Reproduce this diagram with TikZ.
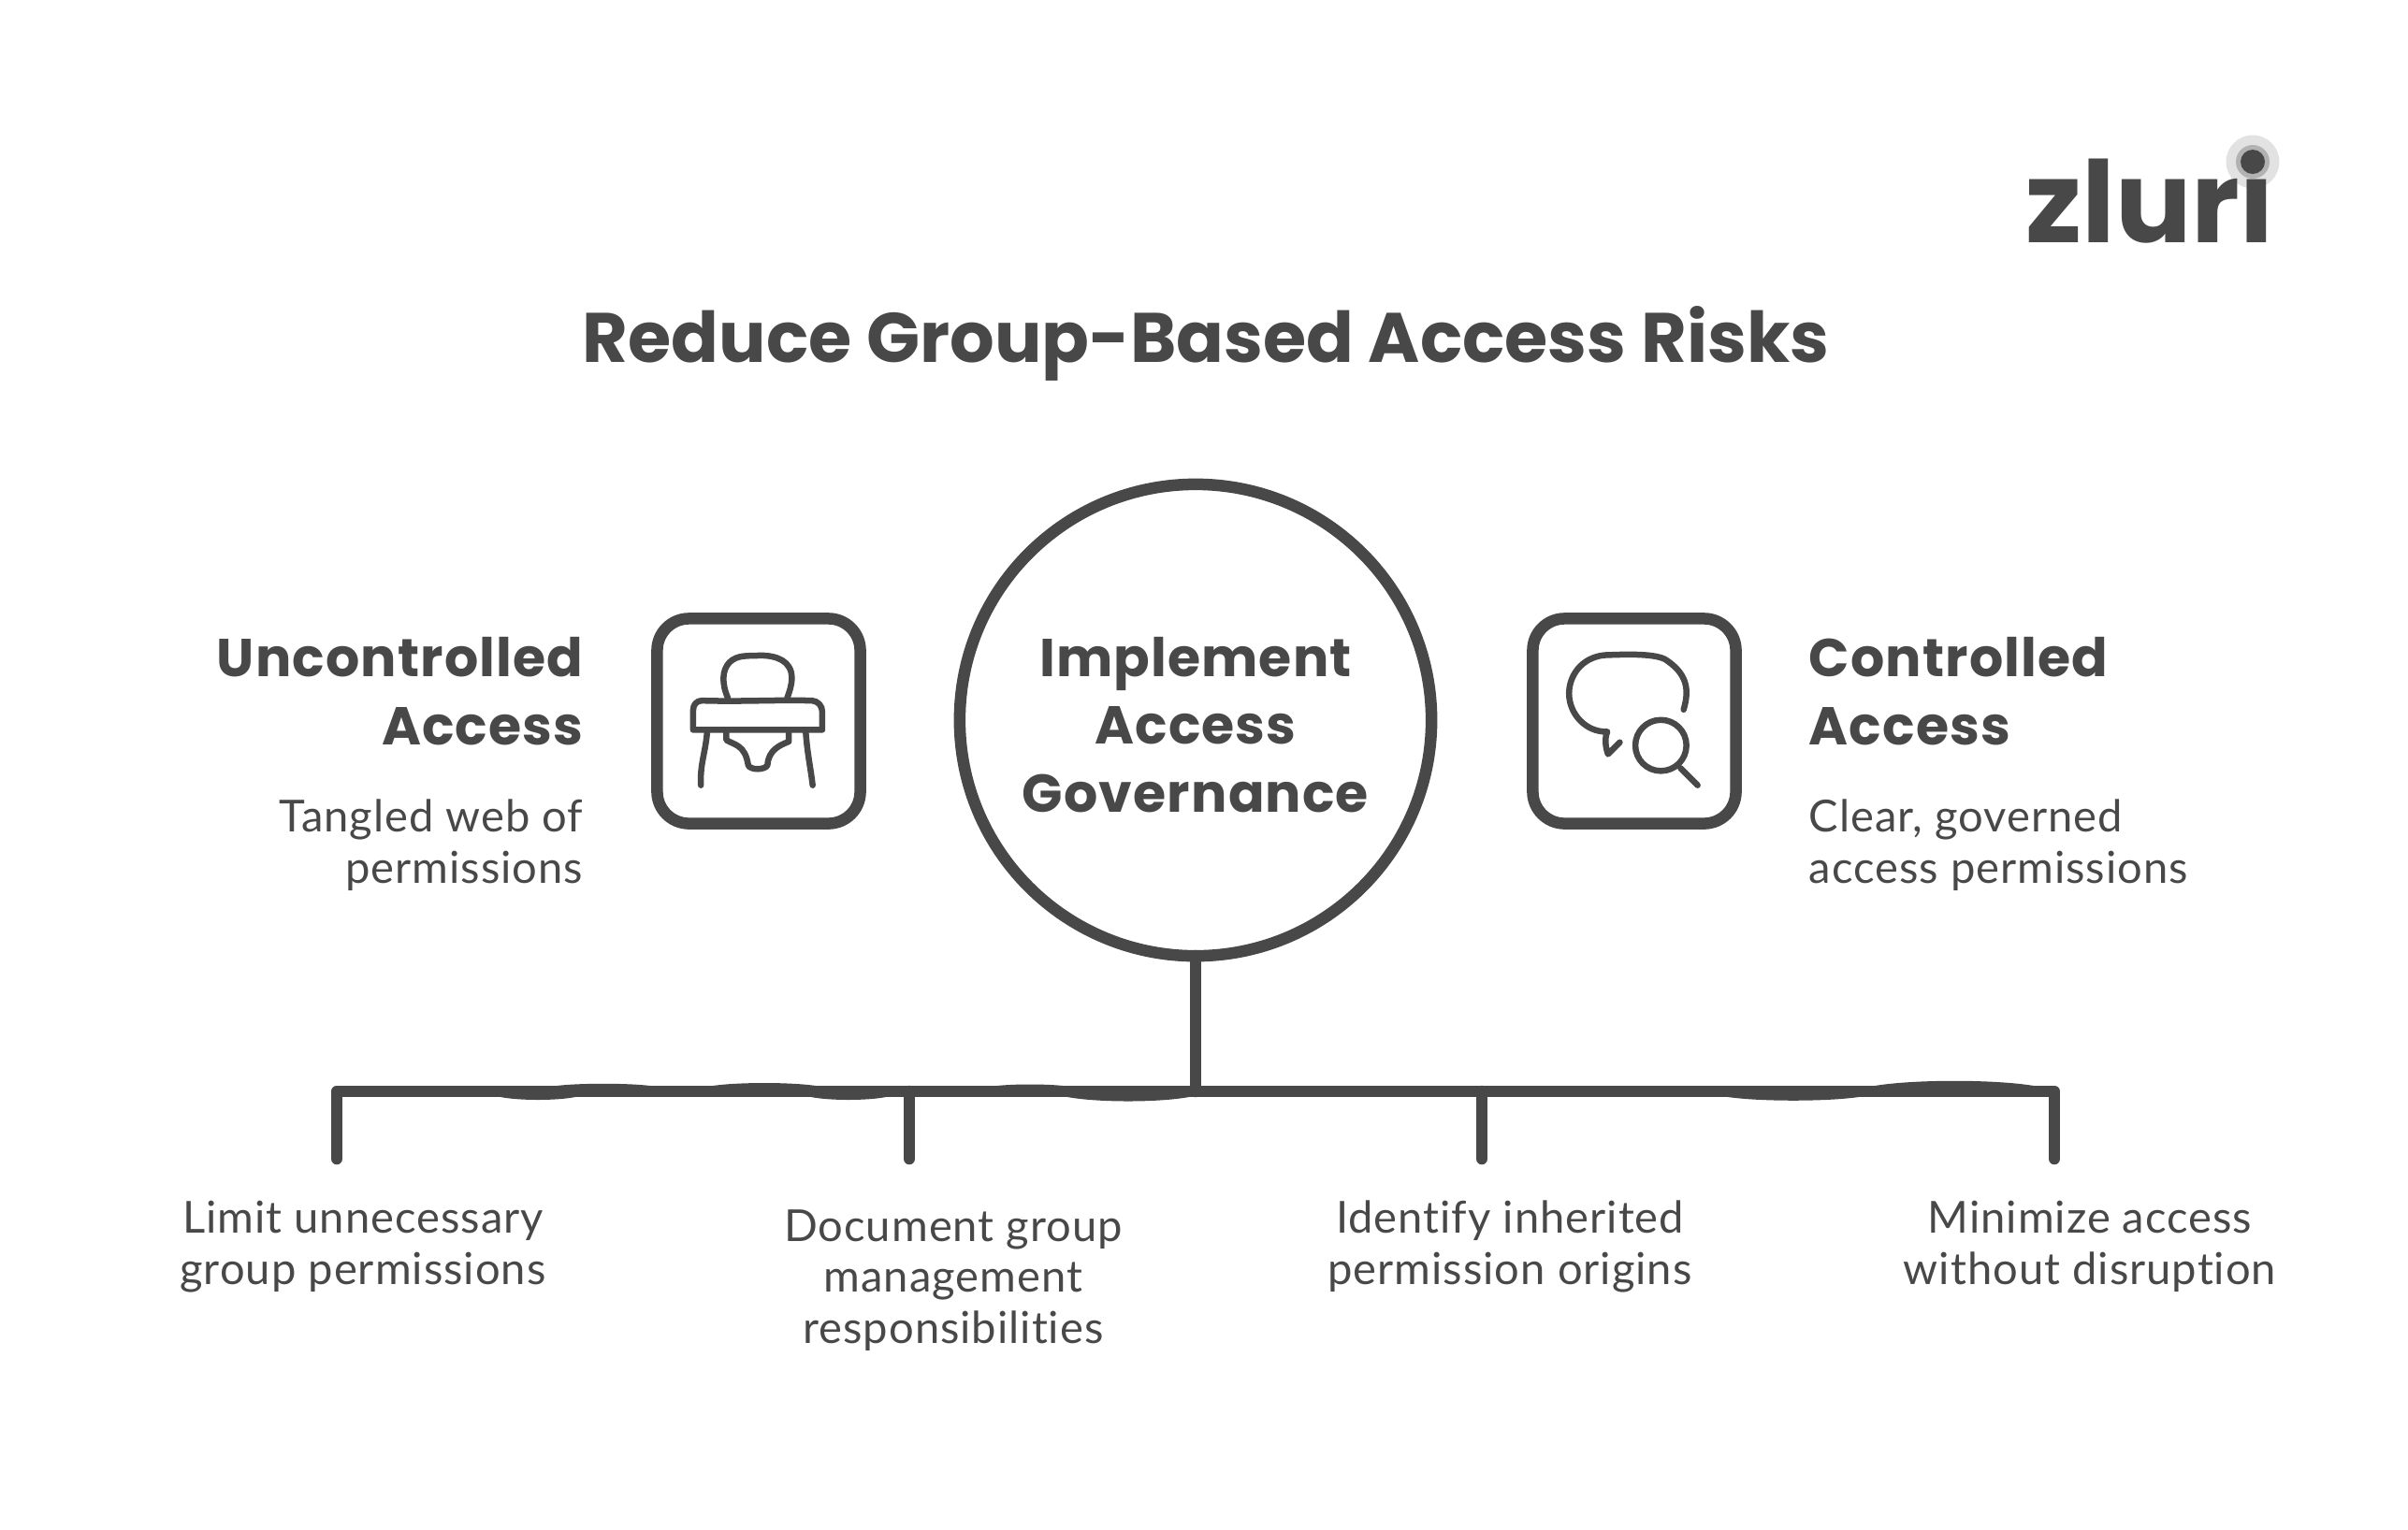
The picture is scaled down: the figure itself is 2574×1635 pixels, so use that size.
\documentclass[tikz,border=0pt]{standalone}
\usepackage{fontspec}
\setmainfont{Lato}[LetterSpace=2.1,Ligatures=NoCommon]
\newfontfamily\headfont{Poppins}[BoldFont=* Bold]
\newfontfamily\headspaced{Poppins}[BoldFont=* Bold,LetterSpace=2]
\definecolor{inkgrey}{HTML}{484848}
\definecolor{ringpale}{HTML}{E2E2E2}
\definecolor{ringmid}{HTML}{B2B2B2}
\tikzset{
  bodytext/.style={anchor=base,inner sep=0pt,text=inkgrey,font=\fontsize{13.4}{15.4}\selectfont},
  headtext/.style={anchor=base,inner sep=0pt,text=inkgrey,font=\headspaced\bfseries\fontsize{16.2}{20.5}\selectfont},
  iconbox/.style={draw=inkgrey,line width=0.125cm,rounded corners=0.34cm,minimum width=2.17cm,minimum height=2.19cm},
  busline/.style={draw=inkgrey,line width=0.125cm,line cap=round,line join=round},
  iconline/.style={draw=inkgrey,line width=0.065cm,line cap=round,line join=round}
}
\begin{document}
\begin{tikzpicture}[x=0.01cm,y=-0.01cm]
      \useasboundingbox (0,0) rectangle (2574,1635);
      % title and logo
      \node[headtext,font=\headfont\bfseries\fontsize{21.3}{25}\selectfont] (title) at (1289,387) {Reduce Group-Based Access Risks};
      \fill[ringpale] (2408,173) circle (28.5);
      \node[inner sep=0pt,anchor=base west,text=inkgrey,font=\headfont\bfseries\fontsize{34.4}{40}\selectfont] (logo) at (2165,259) {zluri};
      \fill[ringmid] (2408,173) circle (18);
      \fill[inkgrey] (2408,173) circle (13);
      % middle row
      \node[circle,draw=inkgrey,line width=0.125cm,minimum size=5.04cm,inner sep=0pt] (govern) at (1278,770) {};
      \node[headtext,align=center] (governtext) at (1278,868) {Implement\\Access\\Governance};
      \node[iconbox] (leftbox) at (811,771) {};
      \node[iconbox] (rightbox) at (1747,771) {};
      \node[headtext,align=right,anchor=base east] (lefthead) at (624,796) {Uncontrolled\\Access};
      \node[bodytext,align=right,anchor=base east] (leftsub) at (624,944) {Tangled web of\\permissions};
      \node[headtext,align=left,anchor=base west] (righthead) at (1933,796) {Controlled\\Access};
      \node[bodytext,align=left,anchor=base west] (rightsub) at (1933,944) {Clear, governed\\access permissions};
      % chair icon
      \begin{scope}[shift={(660,620)},x=0.00333cm,y=-0.00333cm]
        \draw[iconline] (355,380) .. controls (335,335) and (335,290) .. (360,265) .. controls (385,240) and (420,245) .. (460,243) .. controls (510,243) and (560,260) .. (560,315) .. controls (560,340) and (552,360) .. (545,380);
        \draw[iconline] (243,482) -- (243,420) .. controls (243,400) and (255,388) .. (272,388) .. controls (400,392) and (500,385) .. (625,388) .. controls (645,390) and (658,405) .. (658,425) -- (658,482) -- cycle;
        \draw[iconline] (288,490) .. controls (282,560) and (265,590) .. (268,660);
        \draw[iconline] (605,490) .. controls (610,560) and (620,600) .. (627,660);
        \draw[iconline] (350,490) -- (350,515) .. controls (375,530) and (410,530) .. (420,595) .. controls (425,612) and (475,612) .. (482,595) .. controls (485,545) and (525,530) .. (550,520) -- (550,490);
      \end{scope}
      % bubble and lens icon
      \begin{scope}[shift={(1600,620)},x=0.00333cm,y=-0.00333cm]
        \draw[iconline] (600,417) .. controls (620,350) and (610,300) .. (540,255) .. controls (500,235) and (400,240) .. (345,242) .. controls (270,250) and (232,310) .. (232,365) .. controls (232,430) and (285,490) .. (355,488) .. controls (345,510) and (350,540) .. (357,560) -- (395,522);
        \draw[iconline] (527,532) circle (82);
        \draw[iconline] (590,605) -- (645,660);
      \end{scope}
      % bus and its ticks
      \coordinate (trunkfoot) at (1278,1167);
      \coordinate (busleft) at (360,1167);
      \coordinate (busright) at (2196,1167);
      \coordinate (busb) at (972,1167);
      \coordinate (busc) at (1584,1167);
      \coordinate (enda) at (360,1239);
      \coordinate (endb) at (972,1239);
      \coordinate (endc) at (1584,1239);
      \coordinate (endd) at (2196,1239);
      \draw[busline] (govern) ++(0,252) -- (trunkfoot);
      \draw[busline] (enda) -- (busleft) -- (busright) -- (endd);
      \draw[busline] (busb) -- (endb);
      \draw[busline] (busc) -- (endc);
      % uneven pen on the bus
      \foreach \bx/\bw/\by/\bd in {575/40/1173/4,907/40/1173/4,1206/65/1173/6,1917/70/1173/5,645/50/1161/-3,817/55/1161/-4,1101/35/1161/-2,2089/85/1161/-7}
        \fill[inkgrey] (\bx-\bw,\by) .. controls (\bx-\bw/2,\by+\bd) and (\bx+\bw/2,\by+\bd) .. (\bx+\bw,\by) -- cycle;
      % bottom labels
      \node[bodytext,align=center] (labela) at (388,1373) {Limit unnecessary\\group permissions};
      \node[bodytext,align=center] (labelb) at (1019,1436) {Document group\\management\\responsibilities};
      \node[bodytext,align=center] (labelc) at (1614,1373) {Identify inherited\\permission origins};
      \node[bodytext,align=center] (labeld) at (2234,1373) {Minimize access\\without disruption};
    \end{tikzpicture}
\end{document}
